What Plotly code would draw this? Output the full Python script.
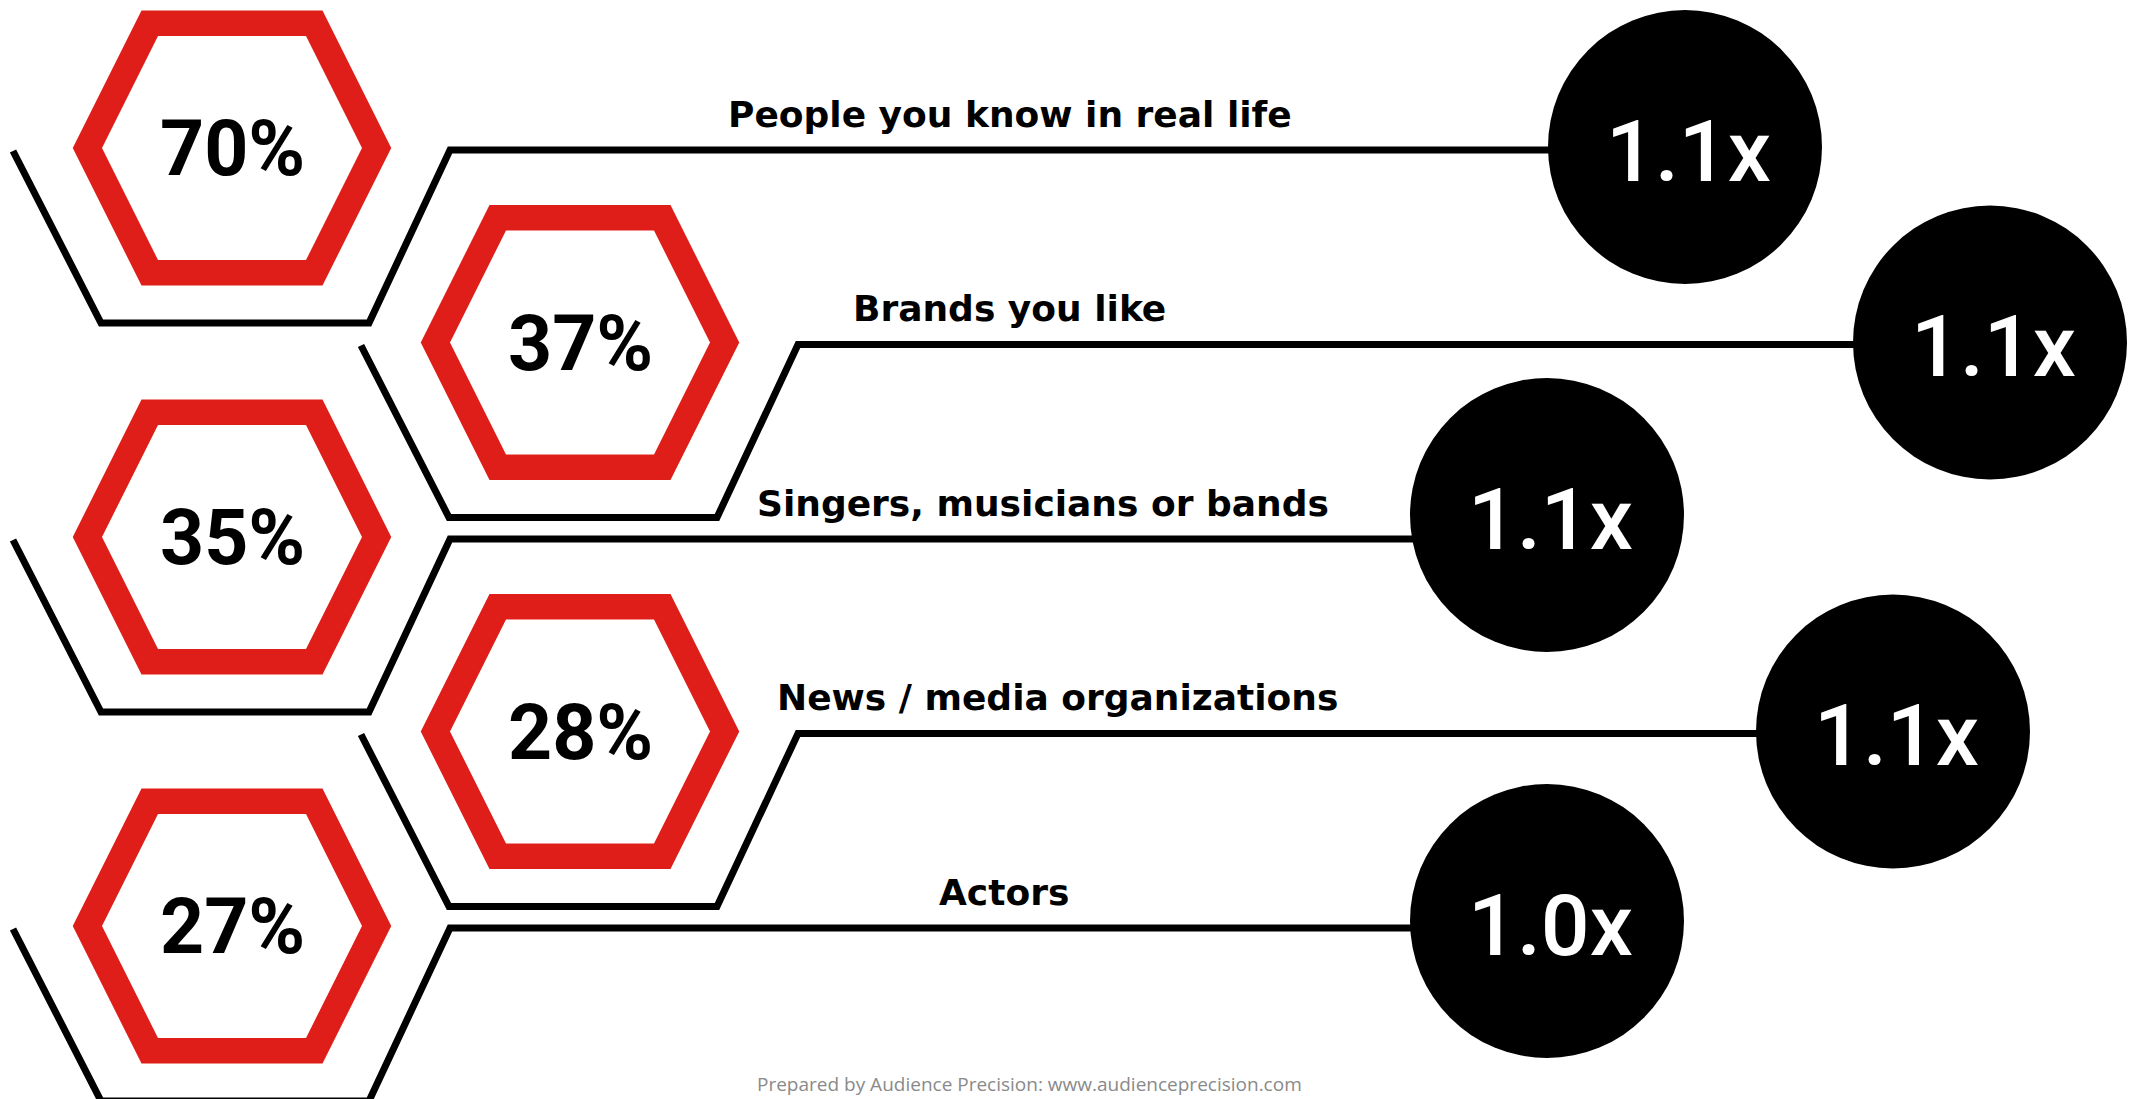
import plotly.graph_objects as go

# data
categories = [
    "People you know in real life",
    "Brands you like",
    "Singers, musicians or bands",
    "News / media organizations",
    "Actors",
]
share_pct = [70, 37, 35, 28, 27]
index_x = [1.1, 1.1, 1.1, 1.1, 1.0]

# layout (pixel space of the 2131x1099 canvas)
W, H = 2131, 1099
RED = "#E01E19"
ROW_Y0, ROW_STEP = 148, 194.5
COL_X = [232, 580]                     # hexagon column centres
CONNECTOR_END = [1685, 1990, 1547, 1893, 1547]
CIRCLE_DY = [-3, -2, -24, -2, -7]
LABEL_CX = [1010, 1009, 1043, 1057, 1004]
CIRCLE_R = 137


def hexagon(cx, cy, a, h):
    xs = [cx - a - h / 2, cx - a, cx + a, cx + a + h / 2, cx + a, cx - a, cx - a - h / 2]
    ys = [cy, cy - h, cy - h, cy, cy + h, cy + h, cy]
    return xs, ys


fig = go.Figure()
shapes = []
annotations = []

for i, (cat, pct, idx) in enumerate(zip(categories, share_pct, index_x)):
    cy = ROW_Y0 + i * ROW_STEP
    cx = COL_X[i % 2]
    line_y = cy + 2

    # black bracket + connector
    fig.add_trace(go.Scatter(
        x=[cx - 219, cx - 131, cx + 137, cx + 218, CONNECTOR_END[i]],
        y=[cy + 3, cy + 175, cy + 175, line_y, line_y],
        mode="lines", line=dict(color="black", width=7),
        hoverinfo="skip", showlegend=False,
    ))

    # red hexagon ring
    ox, oy = hexagon(cx, cy, 90.5, 137.5)
    ix, iy = hexagon(cx, cy, 74, 112)
    fig.add_trace(go.Scatter(x=ox, y=oy, fill="toself", fillcolor=RED, mode="lines",
                             line=dict(width=0, color=RED), hoverinfo="skip", showlegend=False))
    fig.add_trace(go.Scatter(x=ix, y=iy, fill="toself", fillcolor="white", mode="lines",
                             line=dict(width=0, color="white"), hoverinfo="skip", showlegend=False))

    annotations.append(dict(
        x=cx, y=cy + 1, text=f"{pct}%", showarrow=False, xanchor="center", yanchor="middle",
        font=dict(family="Roboto", size=77, color="black", weight="bold"),
    ))

    # black circle with index
    ccx = CONNECTOR_END[i]
    ccy = line_y + CIRCLE_DY[i]
    shapes.append(dict(type="circle", xref="x", yref="y",
                       x0=ccx - CIRCLE_R, x1=ccx + CIRCLE_R, y0=ccy - CIRCLE_R, y1=ccy + CIRCLE_R,
                       fillcolor="black", line=dict(width=0), layer="above"))
    annotations.append(dict(
        x=ccx + 3, y=ccy + 4, text=f"{idx:.1f}x", showarrow=False, xanchor="center", yanchor="middle",
        font=dict(family="Roboto", size=86, color="white", weight=500),
    ))

    # category label
    annotations.append(dict(
        x=LABEL_CX[i], y=line_y - 36, text=cat, showarrow=False, xanchor="center", yanchor="middle",
        font=dict(family="DejaVu Sans", size=36, color="black", weight="bold"),
    ))

annotations.append(dict(
    x=1029, y=1099, text="Prepared by Audience Precision: www.audienceprecision.com",
    showarrow=False, xanchor="center", yanchor="bottom",
    font=dict(family="Open Sans", size=19, color="#8a8a8a"),
))

fig.update_layout(
    width=W, height=H,
    margin=dict(l=0, r=0, t=0, b=0),
    paper_bgcolor="white", plot_bgcolor="white",
    xaxis=dict(range=[0, W], visible=False, fixedrange=True),
    yaxis=dict(range=[H, 0], visible=False, fixedrange=True),
    shapes=shapes,
    annotations=annotations,
    showlegend=False,
)

fig.write_html("out.html", config={"displayModeBar": False},
               post_script="document.body.style.margin='0';")
